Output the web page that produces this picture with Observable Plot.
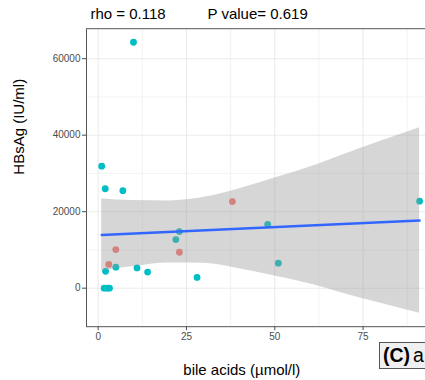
<!DOCTYPE html>
<html>
<head>
<meta charset="utf-8">
<script src="https://cdn.jsdelivr.net/npm/d3@7"></script>
<script src="https://cdn.jsdelivr.net/npm/@observablehq/plot@0.6"></script>
<style>
  html, body { margin: 0; padding: 0; background: #fff; overflow: hidden; }
  #wrap { position: relative; width: 425px; height: 380px; overflow: hidden; background: #fff;
          font-family: "Liberation Sans", Arial, Helvetica, sans-serif; }
  #wrap svg { position: absolute; left: 0; top: 0; max-width: none !important; }
  #tag { position: absolute; left: 379px; top: 342px; width: 70px; height: 27px;
         background: #f0f0f0; border: 1.5px solid #555; box-sizing: border-box;
         font-size: 19.5px; line-height: 24px; padding-left: 3px; color: #000; white-space: nowrap; }
  #tag b { font-weight: bold; margin-right: 3px; }
</style>
</head>
<body>
<div id="wrap"></div>
<script>
// ---- data ----
const bileAcids = [10, 1, 2, 7, 5, 3, 2.1, 5, 11, 14, 1.7, 2.5, 3.2, 22, 23, 23, 28, 38, 48, 51, 91];
const hbsag     = [64300, 31900, 26000, 25500, 10100, 6200, 4400, 5500, 5300, 4200, 0, 0, 0, 12700, 14800, 9400, 2800, 22650, 16700, 6550, 22750];
const groupOf   = ["B","B","B","B","A","A","B","B","B","B","B","B","B","B","B","A","B","A","B","B","B"];
const groups = ["A", "B"];
const groupColors = ["#F8766D", "#00BFC4"];

// fitted regression line and 95% band
const fitX = [1, 91];
const fitY = [13900, 17700];
const bandX    = [1, 10, 20, 30, 40, 50, 60, 70, 80, 91];
const bandLow  = [4490, 5650, 6600, 6490, 5090, 3160, 1100, -1490, -3940, -6530];
const bandHigh = [23310, 22910, 22800, 23750, 26010, 28780, 31680, 35110, 38400, 41930];

// axes
const xTicks = [0, 25, 50, 75];
const xMinor = [12.5, 37.5, 62.5, 87.5];
const yTicks = [0, 20000, 40000, 60000];
const yMinor = [-10000, 10000, 30000, 50000];
const xLabel = "bile acids (\u00b5mol/l)";
const yLabel = "HBsAg (IU/ml)";
const rhoText = "rho = 0.118";
const pText = "P value= 0.619";

const points = bileAcids.map((x, i) => ({x, y: hbsag[i], g: groupOf[i]}));
const fit = fitX.map((x, i) => ({x, y: fitY[i]}));
const band = bandX.map((x, i) => ({x, lo: bandLow[i], hi: bandHigh[i]}));

const font = "Liberation Sans, Arial, Helvetica, sans-serif";

const plot = Plot.plot({
  width: 440,
  height: 380,
  marginLeft: 86,
  marginRight: 5,
  marginTop: 28.2,
  marginBottom: 53.8,
  style: {fontFamily: font, background: "transparent", overflow: "visible", maxWidth: "none"},
  x: {domain: [-3.3, 95.5], axis: null},
  y: {domain: [-10070, 67840], axis: null},
  color: {domain: groups, range: groupColors, legend: false},
  marks: [
    Plot.ruleX(xMinor, {stroke: "#ebebeb", strokeWidth: 0.6}),
    Plot.ruleY(yMinor, {stroke: "#ebebeb", strokeWidth: 0.6}),
    Plot.ruleX(xTicks, {stroke: "#ebebeb", strokeWidth: 1.1}),
    Plot.ruleY(yTicks, {stroke: "#ebebeb", strokeWidth: 1.1}),
    Plot.dot(points, {x: "x", y: "y", fill: "g", r: 3.4}),
    Plot.areaY(band, {x: "x", y1: "lo", y2: "hi", fill: "#999999", fillOpacity: 0.4, curve: "monotone-x"}),
    Plot.line(fit, {x: "x", y: "y", stroke: "#3366FF", strokeWidth: 2.4}),
    Plot.frame({stroke: "#555555", strokeWidth: 1}),
    Plot.axisX(xTicks, {tickSize: 4, tickPadding: 2, fontSize: 10, color: "#4d4d4d", label: null}),
    Plot.axisY(yTicks, {tickSize: 4, tickPadding: 2, fontSize: 10, color: "#4d4d4d", label: null, tickFormat: d3.format("d")}),
    Plot.text([xLabel], {text: d => d, frameAnchor: "bottom-left", lineAnchor: "middle", textAnchor: "middle", dx: 155.3, dy: 43.5, fontSize: 15, fill: "#000"}),
    Plot.text([yLabel], {text: d => d, frameAnchor: "left", lineAnchor: "middle", rotate: -90, dx: -67.7, dy: -3, fontSize: 15, fill: "#000"}),
    Plot.text([rhoText], {text: d => d, frameAnchor: "top-left", lineAnchor: "middle", textAnchor: "start", dx: 4, dy: -14.9, fontSize: 15, fill: "#000"}),
    Plot.text([pText], {text: d => d, frameAnchor: "top-left", lineAnchor: "middle", textAnchor: "start", dx: 121, dy: -14.9, fontSize: 15, fill: "#000"})
  ]
});
plot.style.maxWidth = "none";

const wrap = document.getElementById("wrap");
wrap.appendChild(plot);
const tag = document.createElement("div");
tag.id = "tag";
tag.innerHTML = "<b>(C)</b>a";
wrap.appendChild(tag);
</script>
</body>
</html>
